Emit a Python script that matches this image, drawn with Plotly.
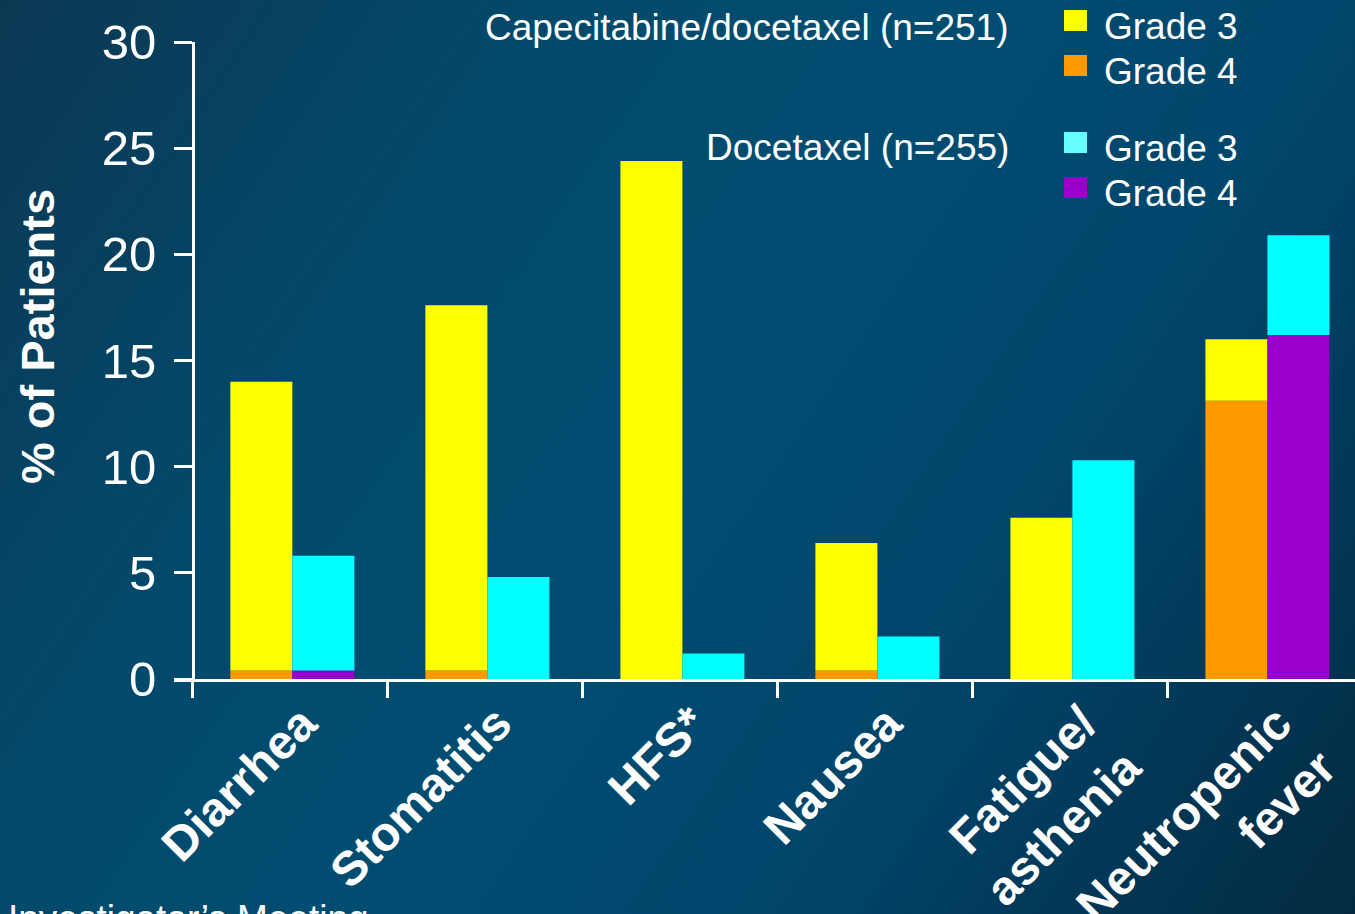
import base64
import plotly.graph_objects as go

# Grade 3/4 adverse events, % of patients
categories = ["Diarrhea", "Stomatitis", "HFS*", "Nausea", "Fatigue/<br>asthenia", "Neutropenic<br>fever"]
cap_grade4 = [0.4, 0.4, 0.0, 0.4, 0.0, 13.1]
cap_grade3 = [13.6, 17.2, 24.4, 6.0, 7.6, 2.9]
doc_grade4 = [0.4, 0.0, 0.0, 0.0, 0.0, 16.2]
doc_grade3 = [5.4, 4.8, 1.2, 2.0, 10.3, 4.7]
y_ticks = [0, 5, 10, 15, 20, 25, 30]

W, H = 1355, 914
FONT = "Liberation Sans, Arial, sans-serif"
WHITE = "#FFFFFF"
BAR_W = 0.318


def px(x):
    return x / W


def py(y):
    return 1 - y / H


# diagonal dark-light-dark slide background
svg = f"""<svg xmlns='http://www.w3.org/2000/svg' width='{W}' height='{H}'>
<defs><linearGradient id='g' gradientUnits='userSpaceOnUse' x1='0' y1='0' x2='{W}' y2='{H}'>
<stop offset='0' stop-color='#0c3853'/>
<stop offset='0.3' stop-color='#024a6c'/>
<stop offset='0.5' stop-color='#004d71'/>
<stop offset='0.72' stop-color='#01446a'/>
<stop offset='1' stop-color='#032a40'/>
</linearGradient></defs>
<rect width='{W}' height='{H}' fill='url(#g)'/></svg>"""
bg_uri = "data:image/svg+xml;base64," + base64.b64encode(svg.encode()).decode()

fig = go.Figure()
fig.add_trace(go.Bar(x=categories, y=cap_grade4, width=BAR_W, offset=-0.308,
                     marker=dict(color="#FF9900", line=dict(width=0)), name="Grade 4"))
fig.add_trace(go.Bar(x=categories, y=cap_grade3, base=cap_grade4, width=BAR_W, offset=-0.308,
                     marker=dict(color="#FFFF00", line=dict(width=0)), name="Grade 3"))
fig.add_trace(go.Bar(x=categories, y=doc_grade4, width=BAR_W, offset=0.010,
                     marker=dict(color="#9900CC", line=dict(width=0)), name="Grade 4"))
fig.add_trace(go.Bar(x=categories, y=doc_grade3, base=doc_grade4, width=BAR_W, offset=0.010,
                     marker=dict(color="#00FFFF", line=dict(width=0)), name="Grade 3"))

# legend drawn as swatches + labels beside the group captions
legend_rows = [
    ("#FFFF00", 10, 31, 26, "Grade 3"),
    ("#FF9900", 55, 76, 71, "Grade 4"),
    ("#66FFFF", 132, 153, 149, "Grade 3"),
    ("#9900CC", 177, 198, 193, "Grade 4"),
]
shapes = []
annotations = []
for color, y0, y1, yc, label in legend_rows:
    shapes.append(dict(type="rect", xref="paper", yref="paper",
                       x0=px(1064), x1=px(1087), y0=py(y1), y1=py(y0),
                       fillcolor=color, line=dict(width=0)))
    annotations.append(dict(text=label, xref="paper", yref="paper", x=px(1102), y=py(yc),
                            xanchor="left", yanchor="middle", showarrow=False,
                            font=dict(family=FONT, size=37, color=WHITE)))
for text, yc in [("Capecitabine/docetaxel (n=251)", 27), ("Docetaxel (n=255)", 147)]:
    annotations.append(dict(text=text, xref="paper", yref="paper", x=px(1011), y=py(yc),
                            xanchor="right", yanchor="middle", showarrow=False,
                            font=dict(family=FONT, size=37, color=WHITE)))

annotations.append(dict(text="% of Patients", xref="paper", yref="paper", x=px(37), y=py(337),
                        xanchor="center", yanchor="middle", textangle=-90, showarrow=False,
                        font=dict(family=FONT, size=47, color=WHITE, weight="bold")))
annotations.append(dict(text="Investigator’s Meeting", xref="paper", yref="paper", x=px(6), y=py(896),
                        xanchor="left", yanchor="top", showarrow=False,
                        font=dict(family=FONT, size=37, color=WHITE)))

fig.update_layout(
    width=W, height=H,
    margin=dict(l=0, r=0, t=0, b=0),
    paper_bgcolor="#024a6c",
    plot_bgcolor="rgba(0,0,0,0)",
    barmode="overlay",
    showlegend=False,
    images=[dict(source=bg_uri, xref="paper", yref="paper", x=0, y=1, sizex=1, sizey=1,
                 xanchor="left", yanchor="top", sizing="stretch", layer="below")],
    shapes=shapes,
    annotations=annotations,
    xaxis=dict(type="category", domain=[px(174), 1], range=[-0.597, 5.459],
               showline=True, linecolor=WHITE, linewidth=3, showgrid=False, zeroline=False,
               ticks="outside", tickson="boundaries", ticklen=16, tickwidth=3, tickcolor=WHITE,
               tickangle=-45, automargin=False, ticklabelshift=12, ticklabelstandoff=-6,
               tickfont=dict(family=FONT, size=48, color=WHITE, weight="bold")),
    yaxis=dict(range=[0, 30], domain=[py(679), py(42)], anchor="free", position=px(193),
               showline=True, linecolor=WHITE, linewidth=3, showgrid=False, zeroline=False,
               ticks="outside", ticklen=18, tickwidth=3, tickcolor=WHITE,
               tickvals=y_ticks, automargin=False, ticklabelstandoff=8,
               tickfont=dict(family=FONT, size=49, color=WHITE)),
)

fig.write_html("out.html")
